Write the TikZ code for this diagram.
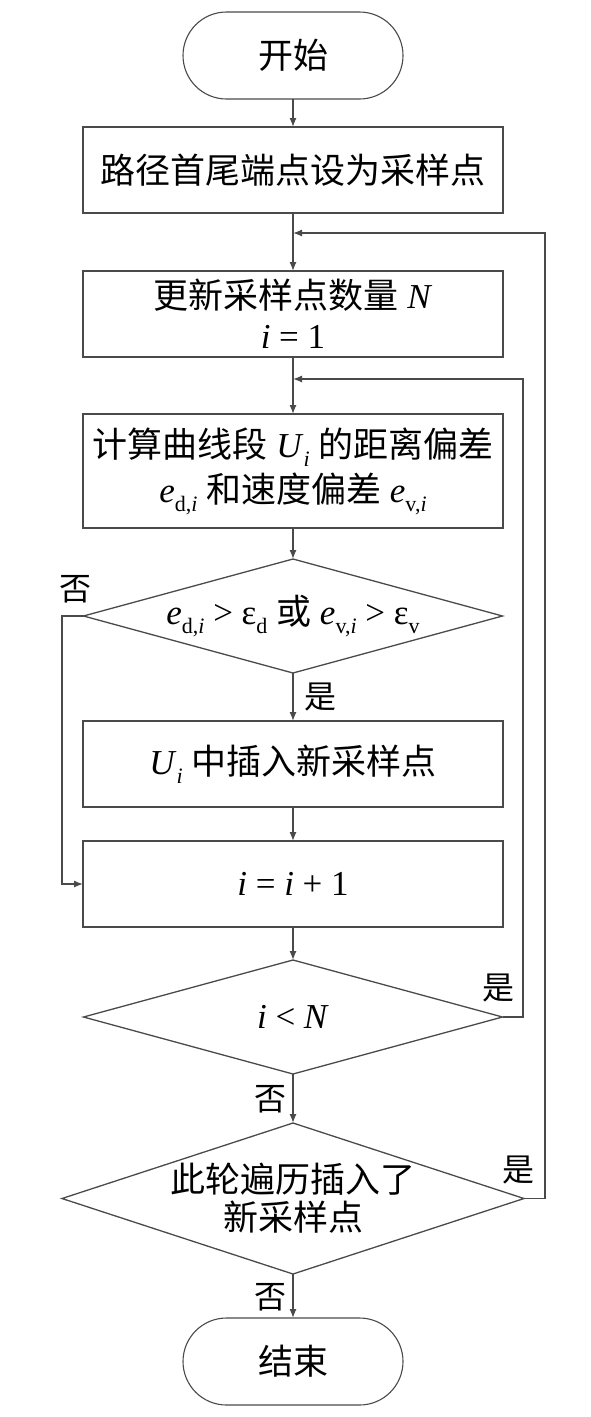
\documentclass[tikz,border=0pt]{standalone}
\usepackage{fontspec}
\setmainfont{Liberation Serif}
\newfontfamily\cjk{Noto Sans CJK SC}
\usetikzlibrary{shapes.geometric,shapes.misc,arrows.meta}
\newcommand{\zh}[1]{{\cjk #1}}
\newcommand{\vi}[1]{\textit{#1}}
\newcommand{\sbs}[1]{\raisebox{-0.25em}{\fontsize{22}{22}\selectfont #1}}
\definecolor{ln}{HTML}{4A4A4A}
\begin{document}
\begin{tikzpicture}[x=1pt,y=-1pt,
  every node/.style={inner sep=0pt, outer sep=0pt},
  txt/.style={font=\fontsize{35}{43}\selectfont, align=center, text=black},
  procbox/.style={draw=ln, line width=1.3pt, minimum width=420pt, minimum height=86pt, txt},
  term/.style={draw=ln, line width=1.1pt, rounded rectangle, minimum width=220pt, minimum height=87pt, txt},
  dia/.style={draw=ln, line width=1.3pt, diamond, inner sep=0pt},
  lbl/.style={font=\fontsize{32}{32}\selectfont, text=black},
  arr/.style={draw=ln, line width=1.3pt, -{Latex[length=9pt,width=7pt]}},
  ln/.style={draw=ln, line width=1.3pt}
]
\useasboundingbox (0,0) rectangle (591,1417);

\node[term] (start) at (293,55.5) {\zh{开始}};
\node[procbox] (b1) at (293,170) {\zh{路径首尾端点设为采样点}};
\node[procbox] (b2) at (293,314) {\zh{更新采样点数量} \vi{N}\\[-3pt]\vi{i} = 1};
\node[procbox, minimum height=114pt] (b3) at (293,471)
  {\zh{计算曲线段} \vi{U}\sbs{\vi{i}} \zh{的距离偏差}\\[2pt]\vi{e}\sbs{d,\vi{i}} \zh{和速度偏差} \vi{e}\sbs{v,\vi{i}}};
\node[dia, minimum width=419pt, minimum height=114pt] (d1) at (293,616) {};
\node[txt] (t1) at (d1.center) {\vi{e}\sbs{d,\vi{i}} {>} ε\sbs{d} \zh{或} \vi{e}\sbs{v,\vi{i}} {>} ε\sbs{v}};
\node[procbox] (b4) at (293,764) {\vi{U}\sbs{\vi{i}} \zh{中插入新采样点}};
\node[procbox] (b5) at (293,884) {\vi{i} = \vi{i} + 1};
\node[dia, minimum width=419pt, minimum height=114pt] (d2) at (293,1017) {};
\node[txt] (t2) at (d2.center) {\vi{i} {<} \vi{N}};
\node[dia, minimum width=462pt, minimum height=151pt] (d3) at (293,1198.5) {};
\node[txt] (t3) at (d3.center) {\zh{此轮遍历插入了}\\[-5pt]\zh{新采样点}};
\node[term] (end) at (293,1361.5) {\zh{结束}};

\coordinate (j1) at (293,233);
\coordinate (j2) at (293,379);
\coordinate (xo) at (545,0);
\coordinate (xi) at (523,0);
\coordinate (xl) at (62,0);

\draw[arr] (start.south) -- (b1.north);
\draw[arr] (b1.south) -- (b2.north);
\draw[arr] (b2.south) -- (b3.north);
\draw[arr] (b3.south) -- (d1.north);
\draw[arr] (d1.south) -- (b4.north);
\draw[arr] (b4.south) -- (b5.north);
\draw[arr] (b5.south) -- (d2.north);
\draw[arr] (d2.south) -- (d3.north);
\draw[arr] (d3.south) -- (end.north);

\draw[arr] (d1.west) -- (d1.west -| xl) |- (b5.west);
\draw[arr] (d2.east) -- (d2.east -| xi) |- (j2);
\draw[arr] (d3.east) -- (d3.east -| xo) |- (j1);

\node[lbl] (n1) at (75,589) {\zh{否}};
\node[lbl] (y1) at (320,697) {\zh{是}};
\node[lbl] (y2) at (498,988) {\zh{是}};
\node[lbl] (n2) at (270,1099) {\zh{否}};
\node[lbl] (y3) at (518,1170) {\zh{是}};
\node[lbl] (n3) at (270,1297) {\zh{否}};
\end{tikzpicture}
\end{document}
